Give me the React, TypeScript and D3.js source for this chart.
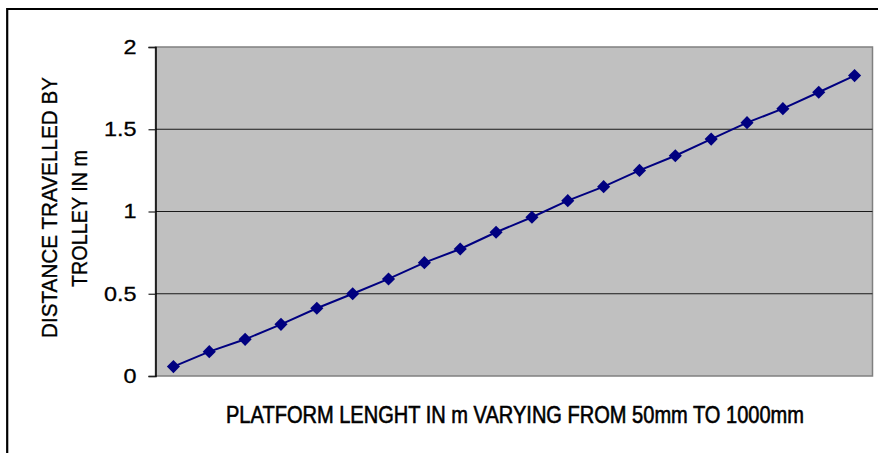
import React, { useEffect, useRef } from "react";
import * as d3 from "d3";

const categories: number[] = d3.range(1, 21);
const distances: number[] = [
  0.057, 0.148, 0.223, 0.314, 0.412, 0.5, 0.59, 0.689, 0.772, 0.874,
  0.965, 1.066, 1.151, 1.25, 1.339, 1.44, 1.54, 1.625, 1.725, 1.826,
];
const yTicks: number[] = [0, 0.5, 1, 1.5, 2];
const yTitleLines: string[] = ["DISTANCE TRAVELLED BY", "TROLLEY IN m"];
const xTitle = "PLATFORM LENGHT IN m VARYING FROM 50mm TO 1000mm";

const W = 878;
const H = 453;
const plot = { left: 155.5, right: 872.5, top: 47, bottom: 376 };
const FONT = "'Liberation Sans', Arial, sans-serif";

export default function App() {
  const ref = useRef<SVGSVGElement | null>(null);

  useEffect(() => {
    const svg = d3.select(ref.current);
    svg.selectAll("*").remove();

    const x = d3
      .scaleBand<number>()
      .domain(categories)
      .range([plot.left, plot.right]);
    const y = d3.scaleLinear().domain([0, 2]).range([plot.bottom, plot.top]);

    // outer chart border (extends past the viewport right/bottom)
    svg
      .append("path")
      .attr("d", `M7.2,${H + 5} L7.2,9 L${W + 5},9`)
      .attr("fill", "none")
      .attr("stroke", "#000")
      .attr("stroke-width", 2.2);

    // plot area
    svg
      .append("rect")
      .attr("x", plot.left)
      .attr("y", plot.top)
      .attr("width", plot.right - plot.left)
      .attr("height", plot.bottom - plot.top)
      .attr("fill", "#c0c0c0")
      .attr("stroke", "#808080")
      .attr("stroke-width", 1.5);

    // gridlines
    svg
      .append("g")
      .selectAll("line")
      .data(yTicks.filter((t) => t > 0 && t < 2))
      .join("line")
      .attr("x1", plot.left)
      .attr("x2", plot.right)
      .attr("y1", (d) => y(d))
      .attr("y2", (d) => y(d))
      .attr("stroke", "#1a1a1a")
      .attr("stroke-width", 1.2);

    // y axis
    const yAxis = d3
      .axisLeft(y)
      .tickValues(yTicks)
      .tickFormat((d) => String(d))
      .tickSize(7)
      .tickPadding(12);
    const ga = svg
      .append("g")
      .attr("transform", `translate(${plot.left},0)`)
      .call(yAxis);
    ga.select(".domain").attr("stroke", "#000").attr("stroke-width", 1.5);
    ga.selectAll(".tick line").attr("stroke", "#222").attr("stroke-width", 1.2);
    ga.selectAll(".tick text")
      .attr("font-family", FONT)
      .attr("font-size", 20)
      .attr("fill", "#000")
      .attr("stroke", "#000")
      .attr("stroke-width", 0.3)
      .attr("transform", "translate(-19,0) scale(1.17,1) translate(19,0)");

    // line
    const line = d3
      .line<number>()
      .x((_, i) => (x(categories[i]) as number) + x.bandwidth() / 2)
      .y((d) => y(d));
    svg
      .append("path")
      .datum(distances)
      .attr("d", line)
      .attr("fill", "none")
      .attr("stroke", "#000080")
      .attr("stroke-width", 2);

    // diamond markers
    const diamond = d3.symbol().type(d3.symbolDiamond2).size(110);
    svg
      .append("g")
      .selectAll("path")
      .data(distances)
      .join("path")
      .attr("d", diamond)
      .attr(
        "transform",
        (d, i) =>
          `translate(${(x(categories[i]) as number) + x.bandwidth() / 2},${y(d)})`
      )
      .attr("fill", "#000080");

    // y title (rotated)
    const yLinePos = [
      { bx: 56.5, cy: 207.5, size: 20.4, len: 261 },
      { bx: 86.5, cy: 218.5, size: 19.8, len: 137 },
    ];
    yTitleLines.forEach((t, i) => {
      const p = yLinePos[i];
      svg
        .append("text")
        .attr(
          "transform",
          `translate(${p.bx},${p.cy}) rotate(-90) scale(1,1.08)`
        )
        .attr("text-anchor", "middle")
        .attr("font-family", FONT)
        .attr("font-size", p.size)
        .attr("textLength", p.len)
        .attr("lengthAdjust", "spacingAndGlyphs")
        .attr("fill", "#000")
        .attr("stroke", "#000")
        .attr("stroke-width", 0.3)
        .text(t);
    });

    // x title
    svg
      .append("text")
      .attr("transform", `translate(515,423.3) scale(1,1.19)`)
      .attr("text-anchor", "middle")
      .attr("font-family", FONT)
      .attr("font-size", 19.9)
      .attr("textLength", 578)
      .attr("lengthAdjust", "spacingAndGlyphs")
      .attr("fill", "#000")
      .attr("stroke", "#000")
      .attr("stroke-width", 0.5)
      .text(xTitle);
  }, []);

  return (
    <svg
      ref={ref}
      width={W}
      height={H}
      style={{ position: "absolute", left: 0, top: 0, background: "#fff" }}
    />
  );
}
